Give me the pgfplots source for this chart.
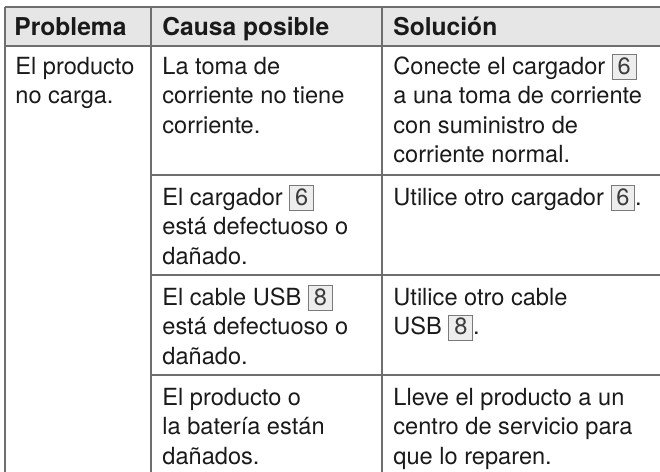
\documentclass[border=0pt]{standalone}
\usepackage{fontspec}
\setmainfont{TeX Gyre Heros}
\usepackage{pgfplots}
\pgfplotsset{compat=1.18}
\definecolor{rule}{HTML}{6E6E6E}
\definecolor{hdr}{HTML}{E6E6E6}
\definecolor{txt}{HTML}{1A1A1A}
\definecolor{boxfill}{HTML}{EDEDED}
\definecolor{boxline}{HTML}{7A7A7A}
\newcommand\fs{\fontsize{11.8pt}{14.75pt}\selectfont}
\newcommand\hfs{\fontsize{12.3pt}{14.75pt}\selectfont}
\newcommand\nb[1]{{\setlength\fboxsep{0pt}\setlength\fboxrule{0.5pt}\fcolorbox{boxline}{boxfill}{\kern2.4pt\rule[-2.5pt]{0pt}{12pt}{\color{txt!85}#1}\kern2.4pt}}}
\newcommand\Tx[3]{\node[anchor=base west,inner sep=0pt,font=\fs,text=txt] at (axis cs:#1,#2) {#3};}
\newcommand\Hd[3]{\node[anchor=base west,inner sep=0pt,font=\hfs\bfseries,text=txt] at (axis cs:#1,#2) {#3};}
\begin{document}
\begin{tikzpicture}
\useasboundingbox (0,0) rectangle (330pt,236pt);
\begin{axis}[
  at={(0,0)}, anchor=south west,
  scale only axis, width=330pt, height=236pt,
  xmin=0, xmax=660, ymin=0, ymax=472, y dir=reverse,
  hide axis, clip=false,
]
% header background
\addplot[fill=hdr, draw=none] coordinates {(5,7) (660,7) (660,46) (5,46)} -- cycle;
% rules
\addplot[rule, line width=0.75pt] coordinates {(5,7) (660,7)};
\addplot[rule, line width=0.75pt] coordinates {(5,46) (660,46)};
\addplot[rule, line width=0.75pt] coordinates {(5,7) (5,472)};
\addplot[rule, line width=0.75pt] coordinates {(151,7) (151,472)};
\addplot[rule, line width=0.75pt] coordinates {(382,7) (382,472)};
\addplot[rule, line width=0.75pt] coordinates {(151,175) (660,175)};
\addplot[rule, line width=0.75pt] coordinates {(151,275) (660,275)};
\addplot[rule, line width=0.75pt] coordinates {(151,375) (660,375)};
% header
\Hd{14}{35}{Problema}
\Hd{162}{35}{Causa posible}
\Hd{393}{35}{Solución}
% row 1
\Tx{15}{74}{El producto}
\Tx{15}{103.5}{no carga.}
\Tx{162}{74}{La toma de}
\Tx{162}{103.5}{corriente no tiene}
\Tx{162}{133}{corriente.}
\Tx{393}{74}{Conecte el cargador \nb{6}}
\Tx{393}{103.5}{a una toma de corriente}
\Tx{393}{133}{con suministro de}
\Tx{393}{162.5}{corriente normal.}
% row 2
\Tx{162}{205}{El cargador \nb{6}}
\Tx{162}{234.5}{está defectuoso o}
\Tx{162}{264}{dañado.}
\Tx{393}{205}{Utilice otro cargador \nb{6}.}
% row 3
\Tx{162}{305}{El cable USB \nb{8}}
\Tx{162}{334.5}{está defectuoso o}
\Tx{162}{364}{dañado.}
\Tx{393}{305}{Utilice otro cable}
\Tx{393}{334.5}{USB \nb{8}.}
% row 4
\Tx{162}{405}{El producto o}
\Tx{162}{434.5}{la batería están}
\Tx{162}{464}{dañados.}
\Tx{393}{405}{Lleve el producto a un}
\Tx{393}{434.5}{centro de servicio para}
\Tx{393}{464}{que lo reparen.}
\end{axis}
\end{tikzpicture}
\end{document}
